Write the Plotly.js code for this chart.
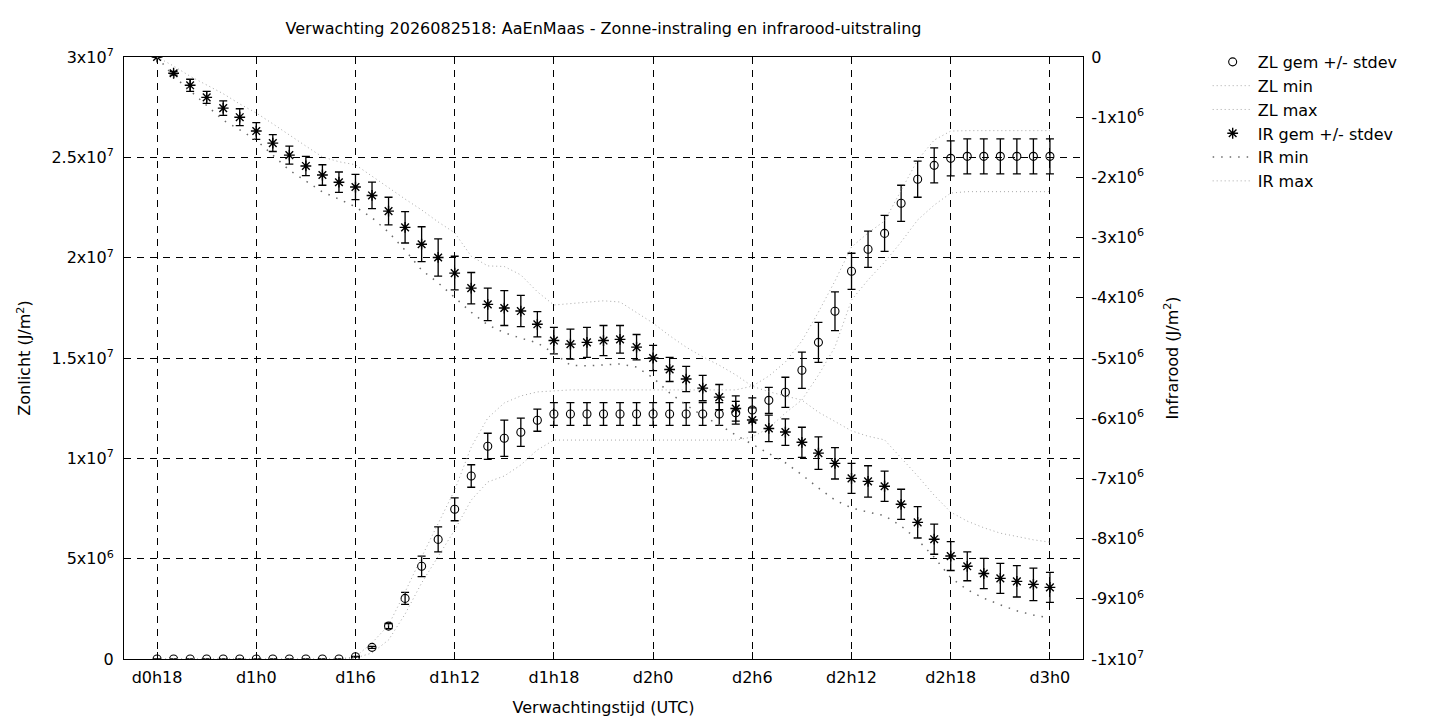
<!DOCTYPE html>
<html>
<head>
<meta charset="utf-8">
<script src="https://cdn.plot.ly/plotly-3.0.1.min.js"></script>
<style>
  html, body { margin: 0; padding: 0; background: #fff; }
  #chart { width: 1440px; height: 720px; }
</style>
</head>
<body>
<div id="chart"></div>
<script>
// Forecast hours since d0h0 (one point per hour, d0h18 .. d3h0)
const hours = [18, 19, 20, 21, 22, 23, 24, 25, 26, 27, 28, 29, 30, 31, 32, 33, 34, 35, 36, 37,
    38, 39, 40, 41, 42, 43, 44, 45, 46, 47, 48, 49, 50, 51, 52, 53, 54, 55, 56, 57,
    58, 59, 60, 61, 62, 63, 64, 65, 66, 67, 68, 69, 70, 71, 72];

// Zonlicht (sunlight), in MJ/m2
const zlMean = [0, 0, 0, 0, 0, 0, 0, 0, 0, 0, 0, 0, 0.11, 0.58, 1.64, 3.02, 4.62, 5.96, 7.46, 9.12,
    10.60, 11.00, 11.30, 11.90, 12.21, 12.21, 12.21, 12.21, 12.21, 12.21, 12.21, 12.21, 12.21, 12.21, 12.21, 12.27, 12.41, 12.89, 13.29, 14.39,
    15.78, 17.33, 19.32, 20.42, 21.21, 22.71, 23.91, 24.60, 24.95, 25.05, 25.05, 25.05, 25.05, 25.05, 25.05];
const zlStd = [0, 0, 0, 0, 0, 0, 0, 0, 0, 0, 0, 0, 0.02, 0.05, 0.13, 0.30, 0.51, 0.62, 0.57, 0.56,
    0.65, 0.90, 0.70, 0.55, 0.57, 0.57, 0.57, 0.57, 0.57, 0.57, 0.57, 0.57, 0.57, 0.57, 0.57, 0.57, 0.60, 0.65, 0.75, 0.90,
    1.00, 0.97, 0.90, 0.90, 0.90, 0.90, 0.90, 0.87, 0.87, 0.87, 0.87, 0.87, 0.87, 0.87, 0.87];
const zlMin = [0, 0, 0, 0, 0, 0, 0, 0, 0, 0, 0, 0, 0.05, 0.30, 0.95, 2.24, 3.79, 5.08, 6.43, 7.92,
    8.82, 9.12, 9.67, 10.42, 10.91, 10.91, 10.91, 10.91, 10.91, 10.91, 10.91, 10.91, 10.91, 10.91, 10.91, 10.91, 11.06, 11.51, 12.26, 12.91,
    14.15, 15.55, 17.89, 18.89, 19.78, 20.78, 21.88, 22.62, 23.22, 23.29, 23.29, 23.29, 23.29, 23.29, 23.29];
const zlMax = [0, 0, 0, 0, 0, 0, 0, 0, 0, 0, 0, 0, 0.11, 0.80, 1.69, 3.34, 5.08, 6.78, 8.42, 10.56,
    12.01, 12.76, 13.11, 13.31, 13.36, 13.41, 13.41, 13.41, 13.41, 13.41, 13.41, 13.41, 13.41, 13.41, 13.41, 13.41, 13.60, 14.10, 14.80, 15.85,
    17.29, 18.84, 20.53, 21.23, 21.83, 23.37, 24.87, 25.86, 26.31, 26.33, 26.33, 26.33, 26.33, 26.33, 26.33];

// Infrarood (infrared), in MJ/m2
const irMean = [0, -0.27, -0.47, -0.67, -0.85, -1.00, -1.23, -1.43, -1.63, -1.81, -1.96, -2.08, -2.16, -2.30, -2.56, -2.83, -3.11, -3.33, -3.59, -3.84,
    -4.11, -4.17, -4.22, -4.44, -4.71, -4.77, -4.74, -4.71, -4.69, -4.82, -5.00, -5.19, -5.35, -5.50, -5.65, -5.84, -6.03, -6.17, -6.23, -6.40,
    -6.58, -6.75, -7.00, -7.05, -7.13, -7.43, -7.73, -8.01, -8.29, -8.46, -8.58, -8.66, -8.71, -8.76, -8.81];
const irStd = [0, 0.03, 0.10, 0.10, 0.12, 0.14, 0.14, 0.14, 0.15, 0.16, 0.17, 0.17, 0.21, 0.22, 0.23, 0.26, 0.29, 0.31, 0.28, 0.26,
    0.27, 0.29, 0.26, 0.21, 0.22, 0.25, 0.25, 0.25, 0.23, 0.21, 0.21, 0.20, 0.21, 0.21, 0.21, 0.21, 0.20, 0.22, 0.22, 0.25,
    0.27, 0.26, 0.25, 0.26, 0.25, 0.25, 0.26, 0.25, 0.24, 0.24, 0.25, 0.25, 0.26, 0.27, 0.25];
const irMin = [0, -0.32, -0.56, -0.80, -1.05, -1.21, -1.38, -1.63, -1.88, -2.06, -2.24, -2.36, -2.49, -2.67, -2.91, -3.21, -3.54, -3.75, -4.00, -4.24,
    -4.45, -4.58, -4.67, -4.75, -4.92, -5.12, -5.13, -5.12, -5.10, -5.15, -5.33, -5.58, -5.78, -5.96, -6.11, -6.28, -6.43, -6.58, -6.74, -6.94,
    -7.16, -7.36, -7.49, -7.56, -7.62, -7.79, -8.02, -8.31, -8.65, -8.85, -8.99, -9.10, -9.20, -9.27, -9.32];
const irMax = [0, -0.15, -0.32, -0.47, -0.61, -0.78, -0.93, -1.11, -1.30, -1.48, -1.66, -1.74, -1.79, -1.98, -2.18, -2.36, -2.54, -2.74, -2.92, -3.31,
    -3.47, -3.48, -3.62, -3.90, -4.12, -4.10, -4.07, -4.05, -4.07, -4.24, -4.42, -4.63, -4.82, -4.98, -5.12, -5.28, -5.47, -5.56, -5.63, -5.70,
    -5.90, -6.06, -6.21, -6.30, -6.36, -6.66, -6.96, -7.28, -7.56, -7.71, -7.82, -7.91, -7.97, -8.02, -8.06];

// Axis ticks
const xTickVals = [18, 24, 30, 36, 42, 48, 54, 60, 66, 72];
const xTickText = ['d0h18', 'd1h0', 'd1h6', 'd1h12', 'd1h18', 'd2h0', 'd2h6', 'd2h12', 'd2h18', 'd3h0'];
const yTickVals = [0, 5e6, 1e7, 1.5e7, 2e7, 2.5e7, 3e7];
const yTickText = ['0', '5x10<sup>6</sup>', '1x10<sup>7</sup>', '1.5x10<sup>7</sup>', '2x10<sup>7</sup>', '2.5x10<sup>7</sup>', '3x10<sup>7</sup>'];
const y2TickVals = [0, -1e6, -2e6, -3e6, -4e6, -5e6, -6e6, -7e6, -8e6, -9e6, -1e7];
const y2TickText = ['0', '-1x10<sup>6</sup>', '-2x10<sup>6</sup>', '-3x10<sup>6</sup>', '-4x10<sup>6</sup>', '-5x10<sup>6</sup>',
    '-6x10<sup>6</sup>', '-7x10<sup>6</sup>', '-8x10<sup>6</sup>', '-9x10<sup>6</sup>', '-1x10<sup>7</sup>'];

const FONT = 'DejaVu Sans, sans-serif';
const FS = 16;
const MJ = v => v * 1e6;   // MJ/m2 -> J/m2

const errBar = arr => ({
    type: 'data', array: arr.map(MJ), visible: true,
    color: '#000', thickness: 1.3, width: 4
});

const lightDots = { color: '#a8a8a8', width: 1, dash: '1px,3px' };

const traces = [
    {
        x: hours, y: zlMean.map(MJ), yaxis: 'y', type: 'scatter', mode: 'markers',
        name: 'ZL gem +/- stdev',
        marker: { symbol: 'circle-open', size: 8, color: '#000', line: { width: 1.1, color: '#000' } },
        error_y: errBar(zlStd)
    },
    { x: hours, y: zlMin.map(MJ), yaxis: 'y', type: 'scatter', mode: 'lines', name: 'ZL min', line: lightDots },
    { x: hours, y: zlMax.map(MJ), yaxis: 'y', type: 'scatter', mode: 'lines', name: 'ZL max', line: lightDots },
    {
        x: hours, y: irMean.map(MJ), yaxis: 'y2', type: 'scatter', mode: 'markers',
        name: 'IR gem +/- stdev',
        marker: { symbol: 'asterisk-open', size: 9, color: '#000', line: { width: 1.4, color: '#000' } },
        error_y: errBar(irStd)
    },
    {
        x: hours, y: irMin.map(MJ), yaxis: 'y2', type: 'scatter', mode: 'lines', name: 'IR min',
        line: { color: '#6a6a6a', width: 1.5, dash: '1.5px,7px' }
    },
    { x: hours, y: irMax.map(MJ), yaxis: 'y2', type: 'scatter', mode: 'lines', name: 'IR max', line: lightDots }
];

const axisCommon = {
    showline: true, linecolor: '#000', linewidth: 1,
    ticks: 'inside', ticklen: 7, tickcolor: '#000', tickwidth: 1,
    tickfont: { family: FONT, size: FS, color: '#000' },
    zeroline: false, fixedrange: true
};

const layout = {
    width: 1440, height: 720,
    margin: { l: 124, r: 357, t: 57, b: 61 },
    paper_bgcolor: '#fff', plot_bgcolor: '#fff',
    font: { family: FONT, size: FS, color: '#000' },
    title: {
        text: 'Verwachting 2026082518: AaEnMaas - Zonne-instraling en infrarood-uitstraling',
        font: { family: FONT, size: FS, color: '#000' },
        xref: 'paper', x: 0.5, xanchor: 'center',
        yref: 'container', y: 0.96, yanchor: 'middle'
    },
    xaxis: Object.assign({}, axisCommon, {
        range: [16, 74], tickmode: 'array', tickvals: xTickVals, ticktext: xTickText,
        mirror: true, ticklabelstandoff: 4,
        showgrid: true, gridcolor: '#000', gridwidth: 1, griddash: '7px,6px',
        title: { text: 'Verwachtingstijd (UTC)', font: { family: FONT, size: FS }, standoff: 15 }
    }),
    yaxis: Object.assign({}, axisCommon, {
        range: [0, 3e7], tickmode: 'array', tickvals: yTickVals, ticktext: yTickText,
        ticklabelstandoff: 6,
        showgrid: true, gridcolor: '#000', gridwidth: 1, griddash: '7px,6px',
        title: { text: 'Zonlicht (J/m<sup>2</sup>)', font: { family: FONT, size: FS }, standoff: 16 }
    }),
    yaxis2: Object.assign({}, axisCommon, {
        overlaying: 'y', side: 'right',
        range: [-1e7, 0], tickmode: 'array', tickvals: y2TickVals, ticktext: y2TickText,
        ticklabelstandoff: 4,
        showgrid: false,
        title: { text: 'Infrarood (J/m<sup>2</sup>)', font: { family: FONT, size: FS }, standoff: 23 }
    }),
    showlegend: true,
    legend: {
        x: 1.13, y: 1.02, xanchor: 'left', yanchor: 'top',
        bgcolor: 'rgba(0,0,0,0)', borderwidth: 0,
        font: { family: FONT, size: FS, color: '#000' },
        tracegroupgap: 0, itemwidth: 40
    }
};

Plotly.newPlot('chart', traces, layout, { displayModeBar: false, staticPlot: true });
</script>
</body>
</html>
